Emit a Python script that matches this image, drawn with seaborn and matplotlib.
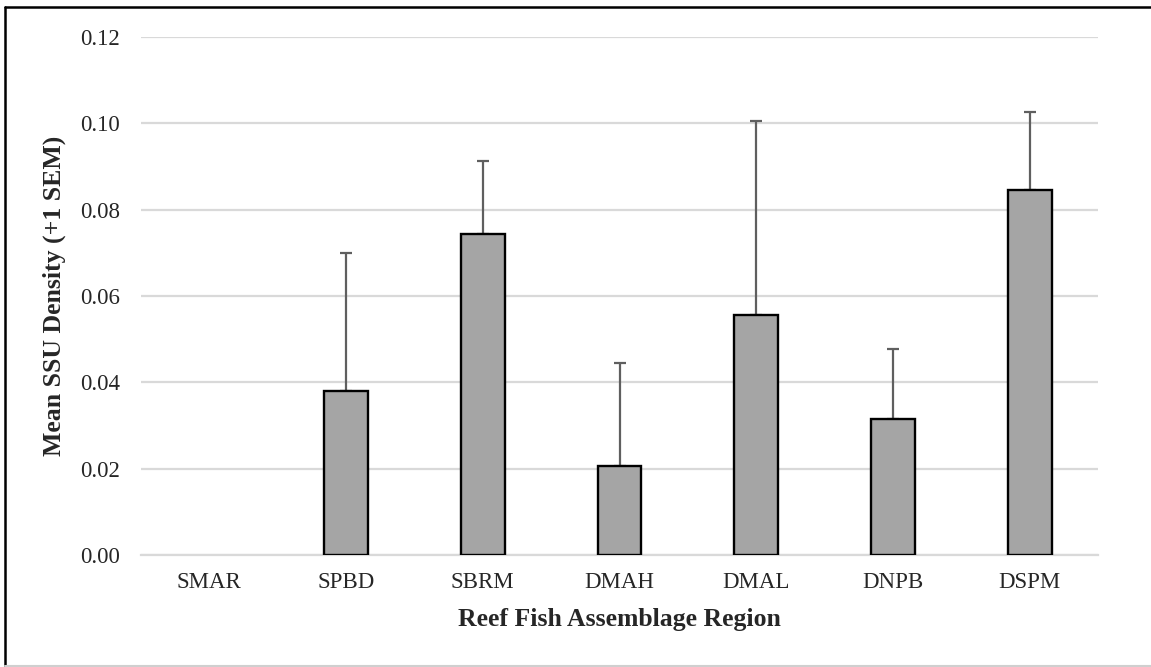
import matplotlib
matplotlib.use("Agg")
import matplotlib.pyplot as plt
from matplotlib.lines import Line2D
import seaborn as sns
import pandas as pd
import numpy as np

regions = ["SMAR", "SPBD", "SBRM", "DMAH", "DMAL", "DNPB", "DSPM"]
mean_density = [0.0, 0.0381, 0.0744, 0.0205, 0.0556, 0.0314, 0.0846]
sem = [0.0, 0.0318, 0.0169, 0.0239, 0.0450, 0.0163, 0.0180]
y_ticks = [0.00, 0.02, 0.04, 0.06, 0.08, 0.10, 0.12]


def main():
    sns.set_style("white")
    plt.rcParams["font.family"] = ["Liberation Serif", "DejaVu Serif"]

    df = pd.DataFrame({"region": regions, "mean": mean_density, "sem": sem})

    fig = plt.figure(figsize=(11.51, 6.67), dpi=100)
    ax = fig.add_axes([0.1225, 0.168, 0.8315, 0.7765])

    sns.barplot(data=df, x="region", y="mean", color="#a5a5a5", edgecolor="black",
                linewidth=1.7, width=0.32, saturation=1, errorbar=None, ax=ax, zorder=3)
    # a zero-height bar should not leave an outline on the axis
    for p in ax.patches:
        if p.get_height() == 0:
            p.set_linewidth(0)

    # only the upper half of the error bar is shown
    xs = np.arange(len(regions))
    has_bar = np.array(mean_density) > 0
    ax.errorbar(xs[has_bar], np.array(mean_density)[has_bar],
                yerr=[np.zeros(has_bar.sum()), np.array(sem)[has_bar]],
                fmt="none", ecolor="#5f5f5f", elinewidth=1.6, capsize=4.5, capthick=1.6, zorder=2)

    ax.set_ylim(0, 0.12)
    ax.set_xlim(-0.5, len(regions) - 0.5)
    ax.set_yticks(y_ticks)
    ax.set_yticklabels([f"{t:.2f}" for t in y_ticks])
    ax.yaxis.grid(True, color="#d9d9d9", linewidth=1.6, zorder=0)
    ax.set_axisbelow(True)
    for side in ["top", "right", "left"]:
        ax.spines[side].set_visible(False)
    ax.spines["bottom"].set_color("#d9d9d9")
    ax.spines["bottom"].set_linewidth(1.6)
    ax.tick_params(axis="both", length=0, labelsize=16.5)
    ax.tick_params(axis="y", pad=15)
    ax.tick_params(axis="x", pad=12)

    ax.set_xlabel("Reef Fish Assemblage Region", fontsize=18.5, fontweight="bold", labelpad=11)
    ax.set_ylabel("Mean SSU Density (+1 SEM)", fontsize=18.5, fontweight="bold", labelpad=10)

    # chart frame: black top and left, light gray bottom, open on the right
    left, top, bottom = 5 / 1151, 1 - 7 / 667, 1.5 / 667
    fig.lines.append(Line2D([left, 1], [top, top], transform=fig.transFigure, color="black", linewidth=1.8))
    fig.lines.append(Line2D([left, left], [bottom, top], transform=fig.transFigure, color="black", linewidth=1.8))
    fig.lines.append(Line2D([left, 1], [bottom, bottom], transform=fig.transFigure, color="#cfcfcf", linewidth=1.5))

    fig.savefig("out.png", dpi=100)


if __name__ == "__main__":
    main()
